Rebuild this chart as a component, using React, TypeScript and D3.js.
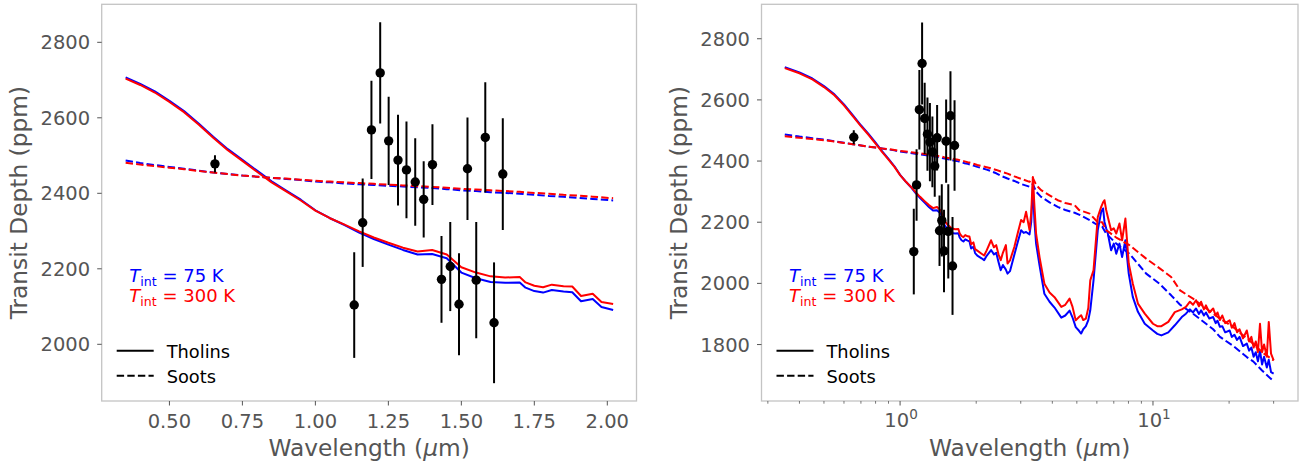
import React from "react";
import * as d3 from "d3";

// ---------- DATA ----------
const tholinWavelength = [
  0.35, 0.4, 0.45, 0.5, 0.55, 0.6, 0.65, 0.7, 0.75, 0.8, 0.85, 0.9, 0.95, 1.0, 1.05, 1.1, 1.15, 1.2, 1.25, 1.3,
  1.35, 1.4, 1.45, 1.5, 1.55, 1.6, 1.65, 1.7, 1.72, 1.75, 1.78, 1.81, 1.85, 1.88, 1.91, 1.95, 1.98, 2.02,
  2.1, 2.15, 2.2, 2.29, 2.35, 2.4, 2.45, 2.5, 2.55, 2.62, 2.66, 2.72, 2.83, 2.92, 3.01, 3.08, 3.15, 3.25, 3.3,
  3.35, 3.4, 3.45, 3.56, 3.72, 3.9, 4.08, 4.34, 4.5, 4.68, 4.8, 4.95, 5.1, 5.2, 5.3, 5.43, 5.55, 5.65, 5.82,
  6.05, 6.24, 6.35, 6.43, 6.53, 6.63, 6.83, 7.0, 7.16, 7.37, 7.55, 7.78, 8.02, 8.32, 8.72, 9.28, 10.0, 10.4,
  10.8, 11.5, 12.2,
  13.0, 13.5, 14.0, 14.4, 14.8, 15.2, 15.5, 15.9, 16.2, 16.7, 17.3, 17.7, 18.0, 18.4, 18.8, 19.3, 20.1, 20.5,
  21.0, 21.5, 22.0, 22.7, 23.5, 24.0, 24.5, 25.0, 25.5, 26.0, 26.5, 27.0, 27.5, 28.2, 28.7, 29.3, 30.0,
];
const tholin75 = [
  2707, 2690, 2670, 2645, 2618, 2585, 2550, 2517, 2489, 2460, 2432, 2407, 2383, 2355, 2334, 2316, 2296, 2279, 2264, 2250,
  2238, 2239, 2228, 2190, 2175, 2165, 2163, 2164, 2150, 2141, 2137, 2144, 2140, 2138, 2114, 2120, 2099, 2091,
  2082, 2076, 2090, 2109, 2095, 2100, 2070, 2043, 2060, 2045, 2032, 2040, 2094, 2135, 2174, 2165, 2168, 2160, 2200,
  2321, 2200, 2130, 2059, 1966, 1940, 1921, 1888, 1895, 1911, 1890, 1857, 1845, 1836, 1850, 1860, 1880, 1912, 2010,
  2174, 2234, 2245, 2201, 2180, 2163, 2108, 2130, 2097, 2130, 2086, 2141, 2032, 1956, 1907, 1868, 1846, 1835,
  1830, 1840, 1863,
  1890, 1901, 1915, 1905, 1918, 1900, 1912, 1895, 1905, 1885, 1890, 1870, 1878, 1858, 1860, 1840, 1846, 1825,
  1832, 1815, 1825, 1795, 1803, 1780, 1790, 1760, 1775, 1745, 1780, 1735, 1760, 1725, 1750, 1710, 1705,
];
const tholin300 = [
  2704, 2687, 2667, 2642, 2615, 2582, 2547, 2514, 2486, 2457, 2429, 2405, 2381, 2354, 2334, 2317, 2299, 2283, 2269, 2256,
  2246, 2250, 2238, 2204, 2190, 2180, 2177, 2178, 2164, 2155, 2151, 2158, 2154, 2153, 2128, 2134, 2112, 2107,
  2097, 2091, 2108, 2141, 2118, 2125, 2095, 2076, 2100, 2125, 2065, 2075, 2119, 2165, 2207, 2200, 2234, 2174, 2230,
  2348, 2250, 2163, 2086, 1999, 1970, 1955, 1923, 1930, 1950, 1925, 1879, 1890, 1896, 1880, 1885, 1920, 2010, 2043,
  2217, 2250, 2265, 2272, 2240, 2217, 2174, 2180, 2163, 2196, 2141, 2212, 2065, 2000, 1934, 1901, 1868, 1860,
  1860, 1874, 1906,
  1915, 1923, 1940, 1930, 1945, 1925, 1940, 1915, 1928, 1905, 1918, 1895, 1905, 1880, 1895, 1870, 1879, 1855,
  1870, 1840, 1850, 1820, 1846, 1810, 1825, 1790, 1810, 1775, 1868, 1775, 1800, 1760, 1874, 1770, 1748,
];

const sootWavelength = [
  0.35, 0.4, 0.45, 0.5, 0.55, 0.6, 0.65, 0.7, 0.75, 0.8, 0.85, 0.9, 0.95, 1.0, 1.05, 1.1, 1.15, 1.2, 1.25, 1.3,
  1.35, 1.4, 1.45, 1.5, 1.55, 1.6, 1.65, 1.7, 1.75, 1.8, 1.85, 1.9, 1.95, 2.02,
  2.1, 2.2, 2.29, 2.4, 2.5, 2.66, 2.83, 3.01, 3.25, 3.35, 3.45, 3.61, 3.9, 4.2, 4.5, 4.9, 5.1, 5.62, 6.05, 6.3,
  6.53, 7.16, 8.07, 9.4, 10.6, 11.8, 12.8, 14.4, 17.3, 18.4, 20.8, 23.5, 24.9, 27.0, 30.0,
];
const soot75 = [
  2487, 2480, 2475, 2470, 2465, 2460, 2455, 2451, 2447, 2444, 2441, 2438, 2435, 2431, 2429, 2426, 2424, 2422, 2420, 2418,
  2416, 2414, 2411, 2408, 2406, 2403, 2401, 2399, 2396, 2393, 2391, 2388, 2385, 2381,
  2377, 2372, 2367, 2360, 2352, 2343, 2335, 2325, 2316, 2325, 2300, 2283, 2265, 2250, 2240, 2231, 2225, 2207, 2190, 2185,
  2163, 2130, 2097, 2032, 1999, 1961, 1930, 1901, 1850, 1825, 1795, 1759, 1745, 1715, 1680,
];
const soot300 = [
  2481, 2476, 2472, 2468, 2464, 2459, 2455, 2451, 2447, 2444, 2441, 2439, 2436, 2433, 2431, 2429, 2427, 2425, 2423, 2421,
  2419, 2417, 2415, 2412, 2410, 2408, 2406, 2404, 2401, 2399, 2396, 2394, 2391, 2387,
  2384, 2380, 2376, 2371, 2366, 2359, 2350, 2342, 2332, 2345, 2322, 2305, 2288, 2272, 2263, 2256, 2240, 2228, 2200, 2200,
  2174, 2150, 2125, 2081, 2050, 2021, 1977, 1950, 1901, 1885, 1857, 1820, 1803, 1775, 1748,
];

const obsWavelength = [
  0.656, 1.133, 1.162, 1.192, 1.222, 1.251, 1.283, 1.312, 1.342, 1.371, 1.401, 1.432, 1.462, 1.492, 1.521, 1.551,
  1.582, 1.612, 1.642,
];
const obsDepth = [
  2478, 2104, 2322, 2568, 2719, 2539, 2488, 2462, 2430, 2384, 2476, 2172, 2206, 2106, 2465, 2170, 2548, 2057, 2451,
];
const obsError = [23, 140, 117, 130, 134, 117, 120, 128, 116, 101, 107, 115, 118, 135, 136, 154, 146, 160, 148];

const leftXTicks = [0.5, 0.75, 1.0, 1.25, 1.5, 1.75, 2.0];
const leftYTicks = [2000, 2200, 2400, 2600, 2800];
const rightYTicks = [1800, 2000, 2200, 2400, 2600, 2800];
const rightXMajor = [1, 10];
const rightXMinor = [0.3, 0.4, 0.5, 0.6, 0.7, 0.8, 0.9, 2, 3, 4, 5, 6, 7, 8, 9, 20, 30];

// ---------- STYLE ----------
const FONT = "DejaVu Sans";
const GREY = "#555555";
const SPINE = "#c4c4c4";
const BLUE = "#0000ff";
const RED = "#ff0000";

type Series = { x: number[]; y: number[]; color: string; dashed: boolean };

function Panel(props: {
  id: string;
  x: any;
  y: any;
  left: number;
  right: number;
  top: number;
  bottom: number;
  log: boolean;
  maxX: number;
  yTicks: number[];
}) {
  const { id, x, y, left, right, top, bottom, log, maxX, yTicks } = props;
  const series: Series[] = [
    { x: tholinWavelength, y: tholin75, color: BLUE, dashed: false },
    { x: sootWavelength, y: soot75, color: BLUE, dashed: true },
    { x: tholinWavelength, y: tholin300, color: RED, dashed: false },
    { x: sootWavelength, y: soot300, color: RED, dashed: true },
  ];
  const line = d3
    .line<[number, number]>()
    .x((d) => x(d[0]))
    .y((d) => y(d[1]));
  const cx = (left + right) / 2;
  const cy = (top + bottom) / 2;
  const legendX = left + 15;
  const textX = left + 27.6;
  return (
    <g>
      <defs>
        <clipPath id={id}>
          <rect x={left} y={top} width={right - left} height={bottom - top} />
        </clipPath>
      </defs>
      <g clipPath={`url(#${id})`}>
        {series.map((s, i) => {
          const pts: [number, number][] = s.x
            .map((v, j) => [v, s.y[j]] as [number, number])
            .filter((p) => p[0] <= maxX);
          return (
            <path
              key={i}
              d={line(pts) || ""}
              fill="none"
              stroke={s.color}
              strokeWidth={2}
              strokeDasharray={s.dashed ? "7.4 3.2" : undefined}
              strokeLinejoin="round"
            />
          );
        })}
        {obsWavelength.map((w, i) => (
          <g key={i}>
            <line
              x1={x(w)}
              x2={x(w)}
              y1={y(obsDepth[i] - obsError[i])}
              y2={y(obsDepth[i] + obsError[i])}
              stroke="#000"
              strokeWidth={2}
            />
            <circle cx={x(w)} cy={y(obsDepth[i])} r={4.7} fill="#000" />
          </g>
        ))}
      </g>
      <rect
        x={left}
        y={top}
        width={right - left}
        height={bottom - top}
        fill="none"
        stroke={SPINE}
        strokeWidth={1.3}
      />
      {yTicks.map((t) => (
        <g key={t}>
          <line x1={left - 4.5} x2={left} y1={y(t)} y2={y(t)} stroke={GREY} strokeWidth={1} />
          <text
            x={left - 11.5}
            y={y(t) + 7}
            textAnchor="end"
            fontFamily={FONT}
            fontSize={19.5}
            fill={GREY}
          >
            {t}
          </text>
        </g>
      ))}
      {!log &&
        leftXTicks.map((t) => (
          <g key={t}>
            <line x1={x(t)} x2={x(t)} y1={bottom} y2={bottom + 4.5} stroke={GREY} strokeWidth={1} />
            <text
              x={x(t)}
              y={427.6}
              textAnchor="middle"
              fontFamily={FONT}
              fontSize={19.5}
              fill={GREY}
            >
              {t.toFixed(2)}
            </text>
          </g>
        ))}
      {log &&
        rightXMinor.map((t) => (
          <line key={t} x1={x(t)} x2={x(t)} y1={bottom} y2={bottom + 2.7} stroke={GREY} strokeWidth={0.8} />
        ))}
      {log &&
        rightXMajor.map((t, i) => (
          <g key={t}>
            <line x1={x(t)} x2={x(t)} y1={bottom} y2={bottom + 4.5} stroke={GREY} strokeWidth={1} />
            <text x={x(t) + 1} y={427} textAnchor="middle" fontFamily={FONT} fontSize={19.5} fill={GREY}>
              10
              <tspan fontSize={13.6} dy={-8}>
                {i}
              </tspan>
            </text>
          </g>
        ))}
      <text
        x={cx}
        y={456}
        textAnchor="middle"
        fontFamily={FONT}
        fontSize={23.3}
        fill={GREY}
      >
        Wavelength (
        <tspan fontStyle="italic">μ</tspan>m)
      </text>
      <text
        transform={`translate(${left - 74.5},${cy}) rotate(-90)`}
        textAnchor="middle"
        fontFamily={FONT}
        fontSize={23.3}
        fill={GREY}
      >
        Transit Depth (ppm)
      </text>
      <text x={textX} y={282.3} fontFamily={FONT} fontSize={18} fill={BLUE}>
        <tspan fontStyle="italic">T</tspan>
        <tspan fontSize={12.6} dy={4}>
          int
        </tspan>
        <tspan dy={-4}>{" = 75 K"}</tspan>
      </text>
      <text x={textX} y={302.3} fontFamily={FONT} fontSize={18} fill={RED}>
        <tspan fontStyle="italic">T</tspan>
        <tspan fontSize={12.6} dy={4}>
          int
        </tspan>
        <tspan dy={-4}>{" = 300 K"}</tspan>
      </text>
      <line x1={legendX} x2={legendX + 37} y1={350.7} y2={350.7} stroke="#000" strokeWidth={2} />
      <text x={legendX + 50} y={358} fontFamily={FONT} fontSize={17.8} fill="#000">
        Tholins
      </text>
      <line
        x1={legendX}
        x2={legendX + 37}
        y1={375.7}
        y2={375.7}
        stroke="#000"
        strokeWidth={2}
        strokeDasharray="7.4 3.2"
      />
      <text x={legendX + 50} y={383} fontFamily={FONT} fontSize={17.8} fill="#000">
        Soots
      </text>
    </g>
  );
}

export default function App() {
  const W = 1299;
  const H = 463;
  const top = 4.3;
  const bottom = 401;
  const lLeft = 101.7;
  const lRight = 636.5;
  const rLeft = 761.5;
  const rRight = 1298;

  const xL = d3.scaleLinear().domain([0.268, 2.1]).range([lLeft, lRight]);
  const yL = d3.scaleLinear().domain([1849.8, 2900.7]).range([bottom, top]);
  const xR = d3
    .scaleLog()
    .domain([Math.pow(10, -0.548), Math.pow(10, 1.5735)])
    .range([rLeft, rRight]);
  const yR = d3.scaleLinear().domain([1615.4, 2912.6]).range([bottom, top]);

  return (
    <svg
      width={W}
      height={H}
      style={{ position: "absolute", left: 0, top: 0, background: "#fff" }}
    >
      <rect x={0} y={0} width={W} height={H} fill="#fff" />
      <Panel id="clipL" x={xL} y={yL} left={lLeft} right={lRight} top={top} bottom={bottom} log={false} maxX={2.03} yTicks={leftYTicks} />
      <Panel id="clipR" x={xR} y={yR} left={rLeft} right={rRight} top={top} bottom={bottom} log={true} maxX={31} yTicks={rightYTicks} />
    </svg>
  );
}
